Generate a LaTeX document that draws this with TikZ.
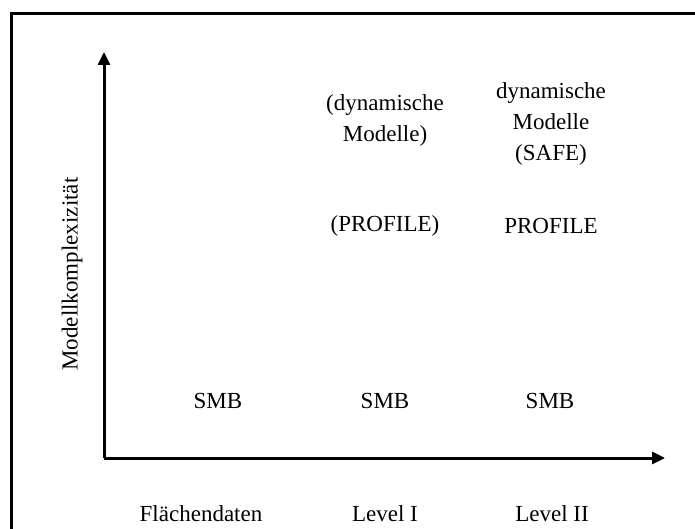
\documentclass[tikz,border=0pt]{standalone}
\usepackage{fontspec}
\setmainfont{Liberation Serif}
\usetikzlibrary{arrows.meta}
\begin{document}
\begin{tikzpicture}[x=1pt, y=-1pt,
  lbl/.style={font=\fontsize{23}{31}\selectfont, align=center, inner sep=0pt},
  axis/.style={line width=3pt, -{Triangle[length=13pt, width=12pt]}}]
\useasboundingbox (0,0) rectangle (695,529);
\clip (0,0) rectangle (695,529);
% frame
\draw[line width=3pt] (11,14) rectangle (720,545);
% axes
\coordinate (origin) at (104,458);
\coordinate (ytop) at (104,52);
\coordinate (xend) at (665,458);
\draw[axis] (origin) -- (ytop);
\draw[axis] (origin) -- (xend);
\node[lbl, rotate=90] (ylabel) at (72,274) {Modellkomplexizität};
% x labels
\node[lbl] (flaeche) at (201,514) {Flächendaten};
\node[lbl] (levelI) at (385,514) {Level I};
\node[lbl] (levelII) at (552,514) {Level II};
% entries
\node[lbl] (smbA) at (218,401) {SMB};
\node[lbl] (smbB) at (385,401) {SMB};
\node[lbl] (smbC) at (550,401) {SMB};
\node[lbl] (profB) at (385,226) {(PROFILE)};
\node[lbl] (profC) at (551,226) {PROFILE};
\node[lbl] (dynB) at (385,120) {(dynamische\\Modelle)};
\node[lbl] (dynC) at (551,124) {dynamische\\Modelle\\(SAFE)};
\end{tikzpicture}
\end{document}
